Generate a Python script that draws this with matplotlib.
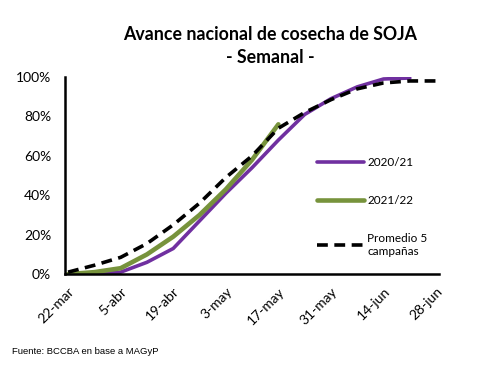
import matplotlib
matplotlib.use("Agg")
import matplotlib.pyplot as plt
import numpy as np

# weeks since 22-mar
weeks = [0, 7, 14, 21, 28, 35, 42, 49, 56, 63, 70, 77, 84, 91, 98]
s2020 = [0, 0, 1, 6, 13, 27, 41, 54, 68, 81, 89, 95, 99, 99.5]
s2021 = [0, 1, 3, 10, 19, 30, 43, 58, 76]
prom5 = [1, 4.5, 8.5, 15.5, 25, 36, 49, 60, 74, 82, 88.5, 94, 97, 98, 98]
tick_days = [0, 14, 28, 42, 56, 70, 84, 98]
tick_labels = ["22-mar", "5-abr", "19-abr", "3-may", "17-may", "31-may", "14-jun", "28-jun"]

plt.rcParams['font.family'] = ['Lato', 'DejaVu Sans']
fig = plt.figure(figsize=(4.82, 3.65), dpi=100)
ax = fig.add_axes([0.135, 0.249, 0.776, 0.54])

ax.plot(weeks[:len(s2020)], s2020, color="#7030A0", lw=2.6, label="2020/21", solid_capstyle="round")
ax.plot(weeks[:len(s2021)], s2021, color="#77933C", lw=3.3, label="2021/22", solid_capstyle="round")
ax.plot(weeks[:len(prom5)], prom5, color="black", lw=2.6, ls=(0, (3, 1.8)), label="Promedio 5\ncampañas")

ax.set_xlim(-0.8, 98.8)
ax.set_ylim(0, 100)
ax.set_yticks([0, 20, 40, 60, 80, 100])
ax.set_yticklabels([f"{v}%" for v in [0, 20, 40, 60, 80, 100]], fontsize=10)
ax.set_xticks(tick_days)
ax.set_xticklabels(tick_labels, rotation=45, ha="right", rotation_mode="anchor", fontsize=10)
ax.tick_params(length=0, pad=10)
ax.tick_params(axis="x", pad=8)
for s in ["top", "right"]:
    ax.spines[s].set_visible(False)
for s in ["left", "bottom"]:
    ax.spines[s].set_linewidth(1.8)
    ax.spines[s].set_color("black")

leg = ax.legend(loc="upper left", bbox_to_anchor=(0.66, 0.62), frameon=False, fontsize=8.5,
                handlelength=4.0, labelspacing=2.3, handletextpad=0.3, borderaxespad=0)

fig.text(0.56, 0.905, "Avance nacional de cosecha de SOJA", ha="center", va="center",
         fontsize=12.8, fontweight="bold")
fig.text(0.56, 0.843, "- Semanal -", ha="center", va="center", fontsize=12.8, fontweight="bold")
fig.text(0.025, 0.038, "Fuente: BCCBA en base a MAGyP", ha="left", va="center", fontsize=6.8,
         family=['Liberation Sans Narrow', 'Liberation Sans', 'DejaVu Sans'])

fig.savefig("out.png", dpi=100, facecolor="white")
